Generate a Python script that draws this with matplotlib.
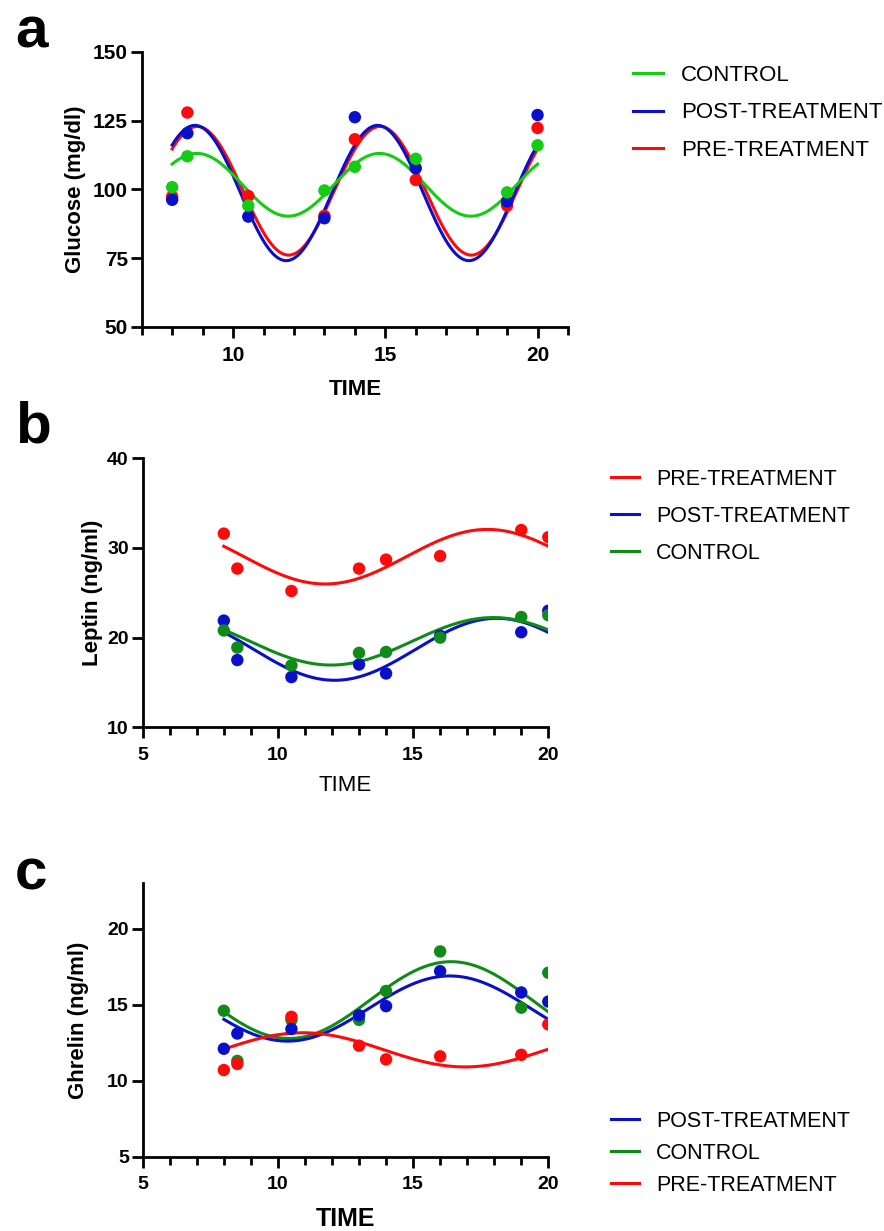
import numpy as np
import matplotlib
matplotlib.use('Agg')
import matplotlib.pyplot as plt
from matplotlib.lines import Line2D
from matplotlib.ticker import MultipleLocator

plt.rcParams['font.family'] = ['Liberation Sans', 'DejaVu Sans']

# sampling times (h)
time = [8, 8.5, 10.5, 13, 14, 16, 19, 20]

# glucose (mg/dl)
glucose_pre = [97.4, 127.9, 97.6, 90.4, 118.2, 103.4, 94.1, 122.3]
glucose_post = [96.2, 120.4, 90.1, 89.5, 126.2, 107.7, 95.6, 127.0]
glucose_ctrl = [100.8, 112.0, 94.1, 99.6, 108.2, 111.1, 98.9, 116.0]

# leptin (ng/ml)
leptin_pre = [31.6, 27.7, 25.2, 27.7, 28.7, 29.1, 32.0, 31.2]
leptin_post = [21.9, 17.5, 15.6, 17.0, 16.0, 20.2, 20.6, 23.0]
leptin_ctrl = [20.8, 18.9, 16.9, 18.3, 18.4, 20.0, 22.3, 22.5]

# ghrelin (ng/ml)
ghrelin_pre = [10.7, 11.1, 14.2, 12.3, 11.4, 11.6, 11.7, 13.7]
ghrelin_post = [12.1, 13.1, 13.4, 14.3, 14.9, 17.2, 15.8, 15.2]
ghrelin_ctrl = [14.6, 11.3, 14.0, 14.0, 15.9, 18.5, 14.8, 17.1]

RED = '#ff0a0a'
BLUE = '#0a10c8'
GREEN_A = '#14cc14'
GREEN_BC = '#108a18'


def cosinor(t, y, period):
    # least squares sine fit with a fixed period
    t = np.asarray(t, float)
    y = np.asarray(y, float)
    w = 2 * np.pi / period
    X = np.column_stack([np.ones_like(t), np.cos(w * t), np.sin(w * t)])
    c = np.linalg.lstsq(X, y, rcond=None)[0]
    tt = np.linspace(t.min(), t.max(), 300)
    return tt, c[0] + c[1] * np.cos(w * tt) + c[2] * np.sin(w * tt)


def panel(fig, rect, series, period, xlim, ylim, yticks, ylabel, ylabelpad, ticksize, xlabel_kw):
    ax = fig.add_axes(rect)
    for y, color, label in series:
        tt, yy = cosinor(time, y, period)
        ax.plot(tt, yy, color=color, lw=2.2, label=label)
        ax.scatter(time, y, s=80, color=color, edgecolors='none', zorder=3)
    ax.set_xlim(*xlim)
    ax.set_ylim(*ylim)
    ax.set_yticks(yticks)
    ax.xaxis.set_major_locator(MultipleLocator(5))
    ax.xaxis.set_minor_locator(MultipleLocator(1))
    for s in ['top', 'right']:
        ax.spines[s].set_visible(False)
    for s in ['left', 'bottom']:
        ax.spines[s].set_linewidth(2.0)
    ax.tick_params(axis='y', which='major', length=8, width=2, pad=2, labelsize=ticksize)
    ax.tick_params(axis='x', which='major', length=8, width=2, pad=6, labelsize=ticksize)
    ax.tick_params(axis='x', which='minor', length=5.5, width=2)
    for lbl in ax.get_xticklabels() + ax.get_yticklabels():
        lbl.set_fontweight('bold')
    ax.set_ylabel(ylabel, fontsize=16, fontweight='bold', labelpad=ylabelpad)
    ax.set_xlabel('TIME', **xlabel_kw)
    return ax


def legend(ax, fig, series, x, y, size, hlen, spacing):
    handles = [Line2D([], [], color=c, lw=2.2) for _, c, _ in series]
    labels = [l for _, _, l in series]
    ax.legend(handles, labels, loc='upper left', bbox_to_anchor=(x, y),
              bbox_transform=fig.transFigure, frameon=False, borderpad=0,
              borderaxespad=0, handlelength=hlen, handletextpad=0.8,
              labelspacing=spacing, fontsize=size)


fig = plt.figure(figsize=(8.84, 12.31), dpi=100)
H = 1231.0
W = 884.0

# panel a
series_a = [(glucose_pre, RED, 'PRE-TREATMENT'),
            (glucose_post, BLUE, 'POST-TREATMENT'),
            (glucose_ctrl, GREEN_A, 'CONTROL')]
ax_a = panel(fig, [141.7 / W, 1 - 327 / H, (568 - 141.7) / W, (327 - 51.7) / H],
             series_a, 6, (7, 21), (50, 150), [50, 75, 100, 125, 150],
             'Glucose (mg/dl)', 5, 15,
             dict(fontsize=16, fontweight='bold', labelpad=10))
legend(ax_a, fig, [series_a[2], series_a[1], series_a[0]], 633 / W, 1 - 65 / H, 16, 1.35, 0.74)

# panel b
series_b = [(leptin_pre, RED, 'PRE-TREATMENT'),
            (leptin_post, BLUE, 'POST-TREATMENT'),
            (leptin_ctrl, GREEN_BC, 'CONTROL')]
ax_b = panel(fig, [142.7 / W, 1 - 727.3 / H, (548.3 - 142.7) / W, (727.3 - 458.3) / H],
             series_b, 12, (5, 20), (10, 40), [10, 20, 30, 40],
             'Leptin (ng/ml)', 3, 14, dict(fontsize=16, labelpad=8))
legend(ax_b, fig, series_b, 611 / W, 1 - 469 / H, 15.5, 1.3, 0.74)

# panel c
series_c = [(ghrelin_ctrl, GREEN_BC, 'CONTROL'),
            (ghrelin_post, BLUE, 'POST-TREATMENT'),
            (ghrelin_pre, RED, 'PRE-TREATMENT')]
ax_c = panel(fig, [142.7 / W, 1 - 1156.7 / H, (548.3 - 142.7) / W, (1156.7 - 883) / H],
             series_c, 12, (5, 20), (5, 23), [5, 10, 15, 20],
             'Ghrelin (ng/ml)', 13, 14,
             dict(fontsize=18, fontweight='bold', labelpad=10))
legend(ax_c, fig, [series_c[1], series_c[0], series_c[2]], 611 / W, 1 - 1111 / H, 15.5, 1.3, 0.51)

# panel letters
fig.text(15 / W, 1 - 47 / H, 'a', fontsize=42, fontweight='bold', va='baseline')
fig.text(15 / W, 1 - 442 / H, 'b', fontsize=42, fontweight='bold', va='baseline')
fig.text(15 / W, 1 - 889 / H, 'c', fontsize=42, fontweight='bold', va='baseline')

fig.savefig('out.png', dpi=100)
